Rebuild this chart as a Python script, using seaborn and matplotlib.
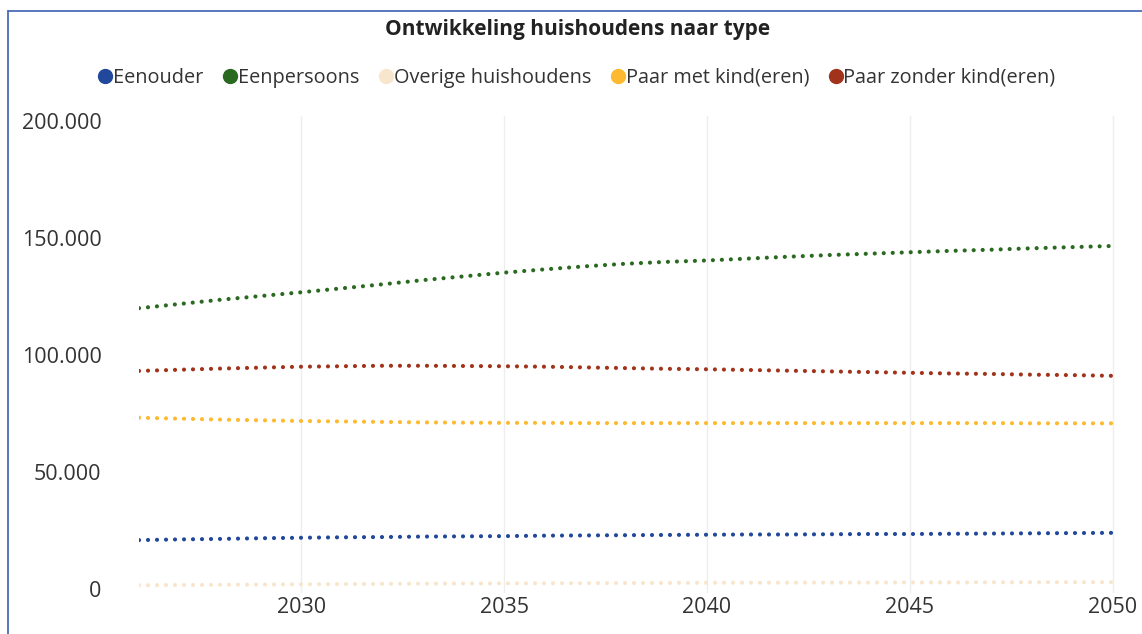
import matplotlib
matplotlib.use("Agg")
import matplotlib.pyplot as plt
from matplotlib.lines import Line2D
import seaborn as sns
import pandas as pd

years = list(range(2026, 2051))
series_names = ["Eenouder", "Eenpersoons", "Overige huishoudens",
                "Paar met kind(eren)", "Paar zonder kind(eren)"]
eenouder = [20900, 21200, 21400, 21700, 21900, 22100, 22200, 22400, 22500, 22600,
            22800, 22900, 23000, 23100, 23200, 23300, 23300, 23400, 23500, 23500,
            23600, 23700, 23800, 23900, 24000]
eenpersoons = [120000, 121800, 123600, 125200, 126800, 128500, 130200, 132000, 133600, 135200,
               136600, 137900, 139000, 139800, 140400, 141200, 142000, 142700, 143300, 143900,
               144500, 145000, 145600, 146100, 146600]
overige = [1600, 1700, 1800, 1900, 2000, 2100, 2200, 2300, 2350, 2400,
           2450, 2500, 2550, 2600, 2650, 2700, 2700, 2750, 2750, 2800,
           2800, 2850, 2850, 2900, 2900]
paar_met = [73200, 72800, 72400, 72100, 71800, 71600, 71400, 71200, 71100, 71000,
            71000, 70900, 70900, 70900, 70900, 70900, 70900, 70900, 70900, 70900,
            70900, 70900, 70800, 70800, 70800]
paar_zonder = [93200, 93700, 94200, 94600, 95000, 95200, 95400, 95400, 95300, 95200,
               95000, 94700, 94400, 94100, 93900, 93600, 93300, 93000, 92700, 92400,
               92100, 91900, 91600, 91400, 91100]
colors = ["#21489A", "#2A6A20", "#F8E6CC", "#FDB92F", "#A1331B"]
x_ticks = [2030, 2035, 2040, 2045, 2050]
y_ticks = [0, 50000, 100000, 150000, 200000]
y_tick_labels = ["0", "50.000", "100.000", "150.000", "200.000"]
title = "Ontwikkeling huishoudens naar type"

values = [eenouder, eenpersoons, overige, paar_met, paar_zonder]
df = pd.concat([pd.DataFrame({"Jaar": years, "Aantal": v, "Type": n})
                for n, v in zip(series_names, values)], ignore_index=True)

sns.set_theme(style="white")
plt.rcParams["font.family"] = ["Open Sans", "DejaVu Sans"]

fig = plt.figure(figsize=(11.42, 6.34), dpi=100)
ax = fig.add_axes([139 / 1142, 1 - 589 / 634, (1112.7 - 139) / 1142, (589 - 121) / 634])

lw = 3.0
sns.lineplot(data=df, x="Jaar", y="Aantal", hue="Type", hue_order=series_names,
             palette=colors, ax=ax, legend=False, linewidth=lw,
             linestyle=(0, (0.01, 2.15)), dash_capstyle="round", zorder=3)

ax.set_xlim(2026, 2050)
ax.set_ylim(0, 200000)
ax.set_xticks(x_ticks)
ax.set_xticklabels([str(t) for t in x_ticks])
ax.set_yticks(y_ticks)
ax.set_yticklabels(y_tick_labels)
ax.tick_params(axis="both", length=0, labelsize=15.5, labelcolor="#333333")
ax.tick_params(axis="y", pad=27)
ax.tick_params(axis="x", pad=6)
ax.set_xlabel("")
ax.set_ylabel("")
for s in ax.spines.values():
    s.set_visible(False)
ax.grid(False)
for t in x_ticks:
    ax.axvline(t, ymin=-0.007, ymax=1.01, color="#EEEEEE", linewidth=1, zorder=0, clip_on=False)

fig.text(0.506, 1 - 29 / 634, title, ha="center", va="center", fontsize=15,
         fontweight="bold", color="#222222")

handles = [Line2D([0], [0], marker="o", linestyle="none", markersize=10,
                  markerfacecolor=c, markeredgecolor=c) for c in colors]
fig.legend(handles, series_names, loc="center", bbox_to_anchor=(0.504, 1 - 78 / 634),
           ncol=5, frameon=False, fontsize=14.3, handletextpad=-0.1,
           columnspacing=0.83, handlelength=1.0, labelcolor="#333333")

# frame
fig.add_artist(Line2D([8 / 1142, 1.0], [1 - 10.5 / 634, 1 - 10.5 / 634],
                      transform=fig.transFigure, color="#4A6DB5", linewidth=1.3))
fig.add_artist(Line2D([8 / 1142, 8 / 1142], [1 - 10.5 / 634, 0],
                      transform=fig.transFigure, color="#4A6DB5", linewidth=1.3))

fig.savefig("out.png", dpi=100)
